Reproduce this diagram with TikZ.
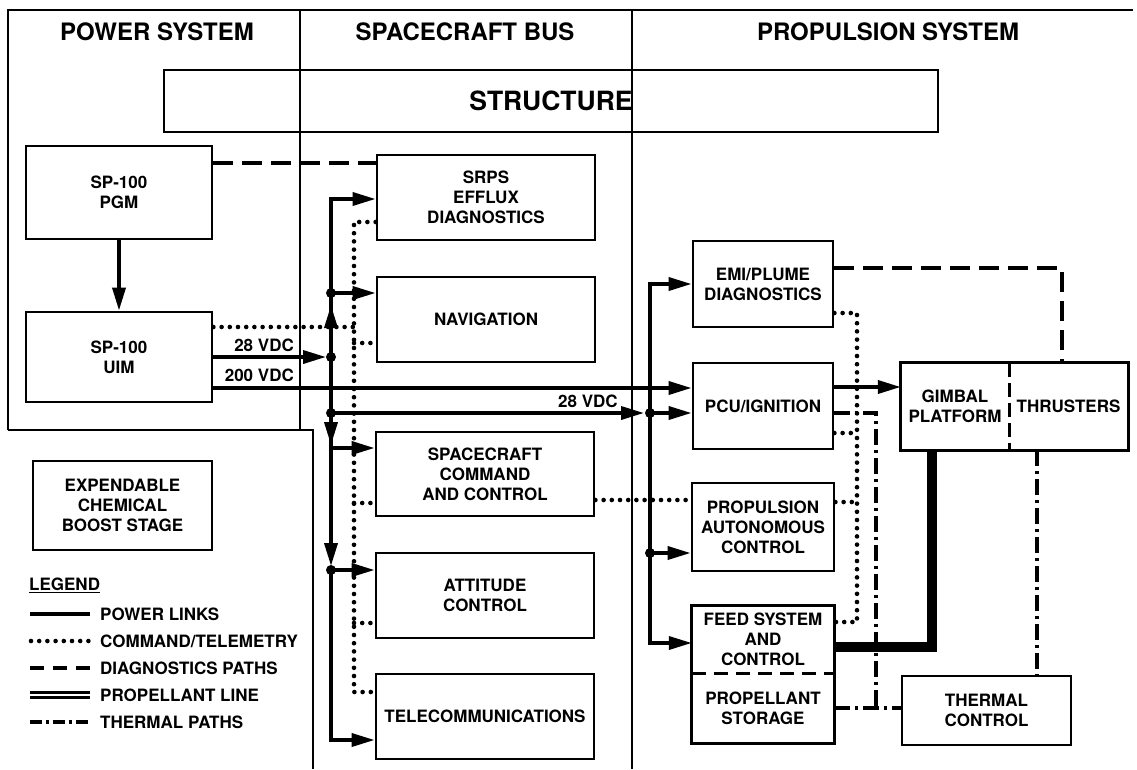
\documentclass[tikz,border=0pt]{standalone}
\usepackage{fontspec}
\setmainfont{TeX Gyre Heros}
\usetikzlibrary{arrows.meta,decorations.markings}
\tikzset{
 bx/.style={draw, line width=2.8pt, align=center, inner sep=0pt, font=\fontsize{17}{20}\selectfont\bfseries},
 txt/.style={align=center, inner sep=0pt, font=\fontsize{17}{20}\selectfont\bfseries},
 hdr/.style={inner sep=0pt, font=\fontsize{24}{28}\selectfont\bfseries},
 boxline/.style={line width=2.8pt},
 frame/.style={line width=2.2pt},
 pw/.style={line width=3.6pt},
 tip/.style={-{Triangle[length=23pt,width=13pt]}},
 cmd/.style={line width=4.6pt, line cap=round, dash pattern=on 0pt off 8.2pt},
 diag/.style={line width=3.8pt, dash pattern=on 20pt off 9pt},
 therm/.style={line width=3.6pt, dash pattern=on 16pt off 5pt on 3pt off 5pt},
 propl/.style={line width=9.5pt},
 midtip/.style={postaction={decorate, decoration={markings, mark=at position #1 with {\arrow{Triangle[length=23pt,width=13pt]}}}}},
}
\begin{document}
\begin{tikzpicture}[x=1pt,y=-1pt]
\path[use as bounding box, fill=white] (0,0) rectangle (1137,769);

% frame
\draw[frame] (8,430) -- (8,10) -- (1133,10);
\draw[frame] (300,10) -- (300,430);
\draw[frame] (8,430) -- (313,430) -- (313,769);
\draw[frame] (632,10) -- (632,769);

% headers
\node[hdr] (hps) at (157,32) {POWER SYSTEM};
\node[hdr] (hsb) at (465,32) {SPACECRAFT BUS};
\node[hdr] (hpr) at (888,32) {PROPULSION SYSTEM};

\node[bx, minimum width=774pt, minimum height=62pt, font=\fontsize{26.5}{30}\selectfont\bfseries] (str) at (551,101) {STRUCTURE};

% power system
\node[bx, minimum width=186pt, minimum height=93pt] (pgm) at (119,192.5) {SP-100\\PGM};
\node[bx, minimum width=186pt, minimum height=90pt] (uim) at (119,357) {SP-100\\UIM};
\node[bx, minimum width=179pt, minimum height=89pt] (ecbs) at (122.5,505.5) {EXPENDABLE\\CHEMICAL\\BOOST STAGE};

% bus
\node[bx, minimum width=218pt, minimum height=85pt] (srps) at (486,197.5) {SRPS\\EFFLUX\\DIAGNOSTICS};
\node[bx, minimum width=218pt, minimum height=85pt] (nav) at (486,319.5) {NAVIGATION};
\node[bx, minimum width=218pt, minimum height=84pt] (scc) at (485,474) {SPACECRAFT\\COMMAND\\AND CONTROL};
\node[bx, minimum width=218pt, minimum height=85pt] (att) at (485,595.5) {ATTITUDE\\CONTROL};
\node[bx, minimum width=218pt, minimum height=85pt] (tel) at (485,716.5) {TELECOMMUNICATIONS};

% propulsion
\node[bx, minimum width=140pt, minimum height=86pt] (emi) at (763,284) {EMI/PLUME\\DIAGNOSTICS};
\node[bx, minimum width=140pt, minimum height=86pt] (pcu) at (763,406) {PCU/IGNITION};
\node[bx, minimum width=142pt, minimum height=88pt] (pac) at (763,527) {PROPULSION\\AUTONOMOUS\\CONTROL};
\node[txt, minimum width=142pt, minimum height=67pt] (feed) at (763,639.5) {FEED SYSTEM\\AND\\CONTROL};
\node[txt, minimum width=142pt, minimum height=70pt] (stor) at (763,708) {PROPELLANT\\STORAGE};
\draw[boxline] (feed.north west) rectangle (stor.south east);
\draw[line width=2.8pt, dash pattern=on 14pt off 8pt] (feed.south west) -- (feed.south east);
\node[txt, minimum width=108pt, minimum height=87pt] (gim) at (955,406.5) {GIMBAL\\PLATFORM};
\node[txt, minimum width=119pt, minimum height=87pt] (thr) at (1068.5,406.5) {THRUSTERS};
\draw[boxline] (gim.north west) rectangle (thr.south east);
\draw[line width=2.8pt, dash pattern=on 14pt off 6pt] (gim.north east) -- (gim.south east);
\node[bx, minimum width=169pt, minimum height=69pt] (thc) at (986.5,710.5) {THERMAL\\CONTROL};

% labels
\node[txt, anchor=east] (l28a) at (294,345) {28 VDC};
\node[txt, anchor=east] (l200) at (294,375) {200 VDC};
\node[txt] (l28b) at (588,401) {28 VDC};

% bus coordinates
\coordinate (T1) at (331,199);
\coordinate (J1) at (331,293);
\coordinate (J2) at (331,357);
\coordinate (J3) at (331,413);
\coordinate (J5) at (331,448);
\coordinate (J4) at (331,570);
\coordinate (T2) at (331,740);
\coordinate (P1) at (650,284);
\coordinate (P2) at (650,413);
\coordinate (P3) at (650,553);
\coordinate (P4) at (650,643);

% command / telemetry
\draw[cmd] (srps.west |- 0,222) -- (354,222) -- (354,692) -- (tel.west |- 0,692);
\draw[cmd] (uim.east |- 0,327) -- (354,327);
\draw[cmd] (354,343) -- (nav.west |- 0,343);
\draw[cmd] (354,503) -- (scc.west |- 0,503);
\draw[cmd] (354,623) -- (att.west |- 0,623);
\draw[cmd] (scc.east |- 0,500) -- (pac.west |- 0,500);
\draw[cmd] (emi.east |- 0,313) -- (857,313) -- (857,622) -- (feed.east |- 0,622);
\draw[cmd] (pcu.east |- 0,433) -- (857,433);
\draw[cmd] (pac.east |- 0,502) -- (857,502);

% diagnostics
\draw[diag] (pgm.east |- 0,163) -- (srps.west |- 0,163);
\draw[diag] (emi.east |- 0,268) -- (1062,268) -- (thr.north -| 1062,0);

% thermal
\draw[therm] (thr.south -| 1037,0) -- (thc.north -| 1037,0);
\draw[therm] (stor.east |- 0,708) -- (thc.west |- 0,708);
\draw[therm] (pcu.east |- 0,413) -- (876,413) -- (876,708);

% propellant
\draw[propl] (feed.east |- 0,647) -- (932,647) -- (gim.south -| 932,0);

% power
\draw[pw, tip] (pgm.south) -- (uim.north);
\draw[pw, tip, shorten >=5pt] (uim.east) -- (J2);
\draw[pw, tip] (uim.east |- 0,388) -- (pcu.west |- 0,388);
\draw[pw, midtip=0.81] (J2) -- (J1);
\draw[pw, tip] (J1) -- (T1) -- (srps.west |- T1);
\draw[pw, tip] (J1) -- (nav.west |- J1);
\draw[pw] (J2) -- (J3);
\draw[pw, tip, midtip=0.204, shorten >=4pt] (J3) -- (J4);
\draw[pw, tip] (J5) -- (scc.west |- J5);
\draw[pw, tip] (J4) -- (att.west |- J4);
\draw[pw, tip] (J4) -- (T2) -- (tel.west |- T2);
\draw[pw, tip, shorten >=6pt] (J3) -- (P2);
\draw[pw, tip] (P2) -- (pcu.west |- P2);
\draw[pw, tip] (P2) -- (P1) -- (emi.west |- P1);
\draw[pw, tip] (P2) -- (P3) -- (P4) -- (feed.west |- P4);
\draw[pw, tip] (P3) -- (pac.west |- P3);
\draw[pw, tip] (pcu.east |- 0,387) -- (gim.west |- 0,387);
\foreach \p in {J1,J2,J3,J4,P2,P3} \fill (\p) circle (5pt);

% legend
\node[txt, anchor=west] (leg) at (29,585) {\underline{LEGEND}};
\coordinate (La) at (30,614); \coordinate (Lb) at (90,614);
\draw[pw] (La) -- (Lb);
\node[txt, anchor=west] (lg1) at (100,614) {POWER LINKS};
\coordinate (Lc) at (31,641); \coordinate (Ld) at (90,641);
\draw[cmd] (Lc) -- (Ld);
\node[txt, anchor=west] (lg2) at (100,641) {COMMAND/TELEMETRY};
\coordinate (Le) at (30,668); \coordinate (Lf) at (90,668);
\draw[line width=3.6pt, dash pattern=on 14pt off 9pt] (Le) -- (Lf);
\node[txt, anchor=west] (lg3) at (100,668) {DIAGNOSTICS PATHS};
\coordinate (Lg) at (30,695); \coordinate (Lh) at (90,695);
\draw[line width=8.5pt] (Lg) -- (Lh);
\draw[white, line width=1.2pt] (Lg) -- (Lh);
\node[txt, anchor=west] (lg4) at (100,695) {PROPELLANT LINE};
\coordinate (Li) at (30,722); \coordinate (Lj) at (90,722);
\draw[line width=3.6pt, dash pattern=on 12pt off 4pt on 3pt off 4pt] (Li) -- (Lj);
\node[txt, anchor=west] (lg5) at (100,722) {THERMAL PATHS};
\end{tikzpicture}
\end{document}
